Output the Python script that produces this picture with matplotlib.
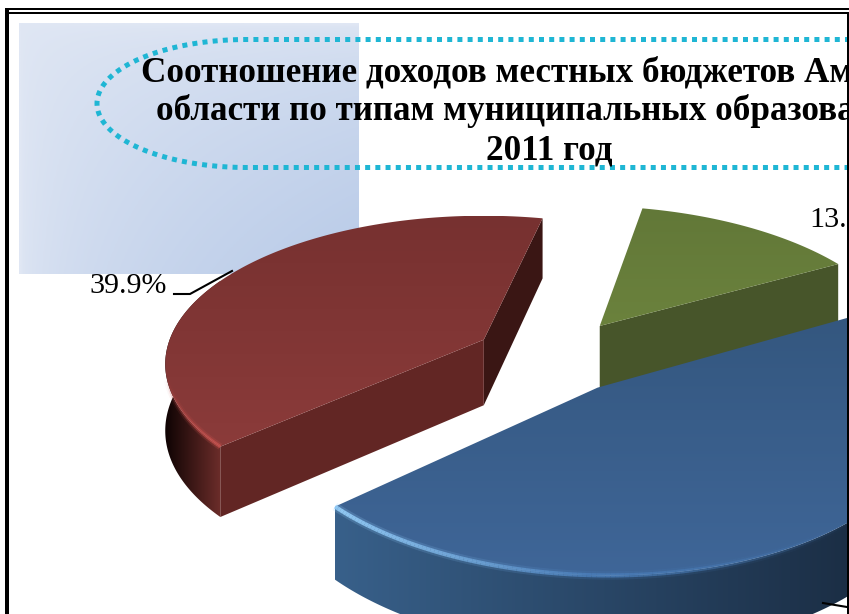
import numpy as np
import matplotlib
matplotlib.use("Agg")
import matplotlib.pyplot as plt
from matplotlib.colors import to_rgb
from matplotlib.collections import LineCollection
from matplotlib.patches import Polygon, Rectangle

# ============================================================
# DATA
# ============================================================

shares = [39.9, 13.6, 46.5]  # red, green, blue
title_lines = ["Соотношение доходов местных бюджетов Амурской",
               "области по типам муниципальных образований за",
               "2011 год"]

# ============================================================
# PIE GEOMETRY (plane of the pie -> picture, with perspective)
# ============================================================

camera = np.array([308.412, -120.448, 551.245, -49.947, -77.747, 357.864, 0.09965, 0.12119])
explode = [0.24853, 0.27705, 0.23925]
start_angle = np.radians(263.5)

serif = "Liberation Serif"

sweep = np.array(shares) / 100 * 2 * np.pi
edges = start_angle + np.r_[0, np.cumsum(sweep)]


def project(X, Y):
    a, b, c, d, e, f, g, h = camera
    w = 1 + g * X + h * Y
    return (a * X + b * Y + c) / w, (d * X + e * Y + f) / w


def slice_outline(i, n=240):
    mid = (edges[i] + edges[i + 1]) / 2
    ox, oy = explode[i] * np.sin(mid), explode[i] * np.cos(mid)
    t = np.linspace(edges[i], edges[i + 1], n)
    x, y = project(ox + np.sin(t), oy + np.cos(t))
    ax_, ay_ = project(ox, oy)
    return x, y, ax_, ay_


def depth(y):
    return 60 + 0.045 * (y - 217)


fig = plt.figure(figsize=(8.49, 6.14), dpi=100)
ax = fig.add_axes([0, 0, 847 / 849, 1])
ax.set_axis_off()


def mix(c1, c2, t):
    return np.array(to_rgb(c1)) * (1 - t[..., None]) + np.array(to_rgb(c2)) * t[..., None]


def grad_fill(x, y, c1, c2, vertical=True, z=2):
    # gradient image cut to the outline of a face
    poly = Polygon(np.c_[x, y], closed=True, fc="none", ec="none")
    ax.add_patch(poly)
    t = np.linspace(0, 1, 128)
    t = t[:, None] if vertical else t[None, :]
    im = ax.imshow(mix(c1, c2, t), extent=(x.min(), x.max(), y.max(), y.min()), aspect="auto",
                   interpolation="bilinear", zorder=z)
    im.set_clip_path(poly)


def wall(ax_, ay_, px, py, color, z):
    ax.add_patch(Polygon(np.c_[[ax_, px, px, ax_], [ay_, py, py + depth(py), ay_ + depth(ay_)]],
                         fc=color, ec="none", zorder=z))


def rim(x, y, colors, alphas, widths, z):
    pts = np.c_[x, y]
    segs = np.stack([pts[:-1], pts[1:]], axis=1)
    for w, k in widths:
        rgba = np.c_[colors[:-1], alphas[:-1] * k]
        ax.add_collection(LineCollection(segs, colors=rgba, linewidths=w, zorder=z, capstyle="butt"))


# ------------------------------------------------------------
# BACKGROUND BOX AND DOTTED OUTLINE
# ------------------------------------------------------------

u, v = np.meshgrid(np.linspace(0, 1, 100), np.linspace(0, 1, 100))
ax.imshow(mix("#e0e7f4", "#b9cbe8", np.sqrt(u * v)), extent=(19, 359, 274, 23), aspect="auto", zorder=1)

phi = np.linspace(np.pi / 2, 3 * np.pi / 2, 120)
ox = np.r_[900, 247 + 150 * np.cos(phi), 900]
oy = np.r_[39.5, 103.5 - 64 * np.sin(phi), 167.5]
ax.plot(ox, oy, color="#1fb6d4", lw=3.6, ls=(0, (1, 1.04)), dash_capstyle="butt", zorder=3)

# ------------------------------------------------------------
# GREEN SLICE
# ------------------------------------------------------------

x, y, ax_, ay_ = slice_outline(1)
wall(ax_, ay_, x[-1], y[-1], "#47552a", 4)
grad_fill(np.r_[ax_, x], np.r_[ay_, y], "#627838", "#6b823d", z=5)

# ------------------------------------------------------------
# RED SLICE
# ------------------------------------------------------------

x, y, ax_, ay_ = slice_outline(0)
wall(ax_, ay_, x[-1], y[-1], "#3a1614", 6)
wall(ax_, ay_, x[0], y[0], "#622624", 6)
k = x <= x[0] + 1
k[np.argmin(y):] = False
sx, sy = x[k], y[k]
grad_fill(np.r_[sx, sx[::-1]], np.r_[sy, (sy + depth(sy))[::-1]], "#0e0303", "#6c2d2a", vertical=False, z=6)
grad_fill(np.r_[ax_, x], np.r_[ay_, y], "#773130", "#8b3b3a", z=7)
n = 45
rim(x[:n], y[:n], np.tile(to_rgb("#c9524e"), (n, 1)), np.linspace(1, 0, n), [(5, 0.25), (2.5, 0.75)], 8)

# ------------------------------------------------------------
# BLUE SLICE
# ------------------------------------------------------------

x, y, ax_, ay_ = slice_outline(2)
wy = y + depth(y)
grad_fill(np.r_[x, x[::-1]], np.r_[y, wy[::-1]], "#38608a", "#17273b", vertical=False, z=9)
grad_fill(np.r_[ax_, x], np.r_[ay_, y], "#34577f", "#3f6698", z=10)
tt = np.clip((x - 337) / 512, 0, 1)
cols = mix("#9ad4ff", "#4a7db8", np.clip(tt / 0.5, 0, 1))
alph = np.clip((1.02 - tt) / 0.5, 0, 1)
rim(x, y, cols, alph, [(6, 0.2), (3, 0.85)], 11)

# ------------------------------------------------------------
# FRAME, TITLE, LABELS
# ------------------------------------------------------------

for bx in [(5, 8, 4, 606), (5, 8, 844, 2), (5, 12, 844, 1.5), (847, 12, 2, 602)]:
    ax.add_patch(Rectangle(bx[:2], bx[2], bx[3], fc="black", ec="none", zorder=20, clip_on=False))

for line, cx, base in zip(title_lines, [552, 555.5, 549.5], [82, 120, 160]):
    ax.text(cx, base, line, family=serif, weight="bold", fontsize=25.3, ha="center", va="baseline",
            clip_on=True, zorder=15)
ax.text(89, 293, f"{shares[0]}%", family=serif, fontsize=21.6, va="baseline", zorder=15)
ax.text(809, 227, f"{shares[1]}%", family=serif, fontsize=21.6, va="baseline", clip_on=True, zorder=15)
ax.plot([174, 190, 232], [294, 294, 271], color="black", lw=1.5, zorder=15)
ax.plot([823, 847], [603, 607], color="black", lw=1.5, zorder=15)

ax.set_xlim(0, 847)
ax.set_ylim(614, 0)
fig.savefig("out.png", dpi=100)
